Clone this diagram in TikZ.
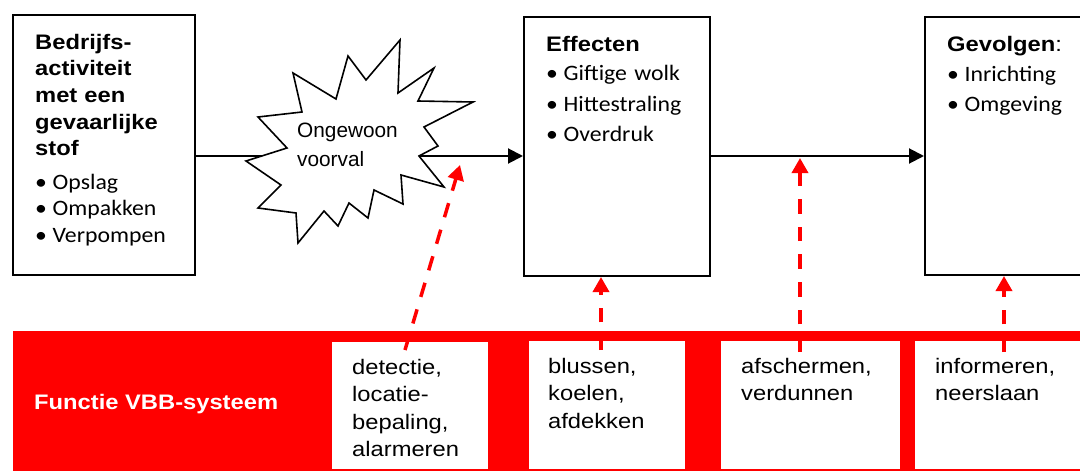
\documentclass[tikz,border=0pt]{standalone}
\usepackage{fontspec}
\setmainfont{Liberation Sans}
\newfontfamily\arialw[FakeStretch=1.13]{Liberation Sans}
\newfontfamily\calw[FakeStretch=1.08]{Carlito}
\usepackage{tikz}
\usetikzlibrary{positioning,arrows.meta}
\newcommand{\blt}{\makebox[17.5pt][l]{\textbullet}}

\begin{document}
\begin{tikzpicture}[x=1pt, y=-1pt,
	blok/.style={draw, line width=2pt, fill=white, inner sep=0pt},
	vak/.style={fill=white, inner sep=0pt},
	kop/.style={anchor=base west, inner sep=0pt, align=left, text width=170pt, font=\arialw\bfseries\fontsize{21}{26.7}\selectfont},
	lijst/.style={anchor=base west, inner sep=0pt, align=left, text width=170pt, font=\calw\fontsize{22}{#1}\selectfont},
	lijst/.default=26.5,
	onder/.style={anchor=base west, inner sep=0pt, align=left, text width=160pt, font=\arialw\fontsize{21}{27.6}\selectfont},
	lijn/.style={line width=2pt},
	pijl/.style={line width=2pt, -{Triangle[length=15pt,width=15pt]}},
	rood/.style={red, line width=3.5pt, dash pattern=on 14.7pt off 13pt, -{Triangle[length=15pt,width=16pt]}}]
			\useasboundingbox (0,0) rectangle (1080,471);
			
			\node[blok, minimum width=182pt, minimum height=260pt] (act) at (104,145) {};
			\node[blok, minimum width=186pt, minimum height=259pt] (eff) at (617,146.5) {};
			\node[blok, minimum width=190pt, minimum height=258pt] (gev) at (1020,146) {};
			
			\coordinate (mid) at (340,156);
			\coordinate (uit) at (419,156);
			\draw[lijn] (act.east |- mid) -- (mid);
			\filldraw[fill=white, line width=1.6pt] (400,40) -- (398,93) -- (434,68) -- (418,101) -- (473,102) -- (424,127) -- (438,146) -- (419,156) -- (444,187) -- (401,175) -- (403,204) -- (374,190) -- (368,218) -- (349,203) -- (338,226) -- (324,211) -- (298,243) -- (296,213) -- (258,208) -- (281,185) -- (246,161) -- (287,148) -- (258,117) -- (302,112) -- (293,73) -- (336,99) -- (348,56) -- (366,80) -- cycle;
			\node[anchor=base west, inner sep=0pt, align=left, text width=120pt, font=\fontsize{20.8}{29}\selectfont] (voorval) at (297,137) {Ongewoon\\voorval};
			\draw[pijl] (uit) -- (uit -| eff.west);
			\draw[pijl] (eff.east |- uit) -- (gev.west |- uit);
			
			\node[kop] (acttitel) at (35,49) {Bedrijfs-\\activiteit\\met een\\gevaarlijke\\stof};
			\node[lijst] (actlijst) at (35,189) {\blt Opslag\\\blt Ompakken\\\blt Verpompen};
			\node[kop] (efftitel) at (546,51) {Effecten};
			\node[lijst=31] (efflijst) at (546,80) {\blt Giftige wolk\\\blt Hittestraling\\\blt Overdruk};
			\node[kop] (gevtitel) at (947,51) {Gevolgen{\mdseries :}};
			\node[lijst=30] (gevlijst) at (947,81) {\blt Inrichting\\\blt Omgeving};
			
			\node[fill=red, inner sep=0pt, minimum width=1067pt, minimum height=140pt] (band) at (546.5,401) {};
			\node[vak, minimum width=156pt, minimum height=127pt] (b1) at (410,405.5) {};
			\node[vak, minimum width=156pt, minimum height=128pt] (b2) at (607,405) {};
			\node[vak, minimum width=179pt, minimum height=128pt] (b3) at (810.5,405) {};
			\node[vak, minimum width=165pt, minimum height=128pt] (b4) at (997.5,405) {};
			
			\node[anchor=base west, inner sep=0pt, text=white, font=\arialw\bfseries\fontsize{21}{25}\selectfont] (functie) at (34,409) {Functie VBB-systeem};
			\node[onder] (t1) at (352,374) {detectie,\\locatie-\\bepaling,\\alarmeren};
			\node[onder] (t2) at (548,373) {blussen,\\koelen,\\afdekken};
			\node[onder] (t3) at (741,373) {afschermen,\\verdunnen};
			\node[onder] (t4) at (935,373) {informeren,\\neerslaan};
			
			\coordinate (r1) at (405,350);
			\coordinate (p1) at (460,165);
			\coordinate (r2) at (601,350);
			\coordinate (r3) at (800,352);
			\coordinate (p3) at (800,158);
			\coordinate (r4) at (1004,352);
			\draw[rood] (r1) -- (p1);
			\draw[rood] (r2) -- (r2 |- eff.south);
			\draw[rood] (r3) -- (p3);
			\draw[rood] (r4) -- (r4 |- gev.south);
		\end{tikzpicture}
\end{document}
